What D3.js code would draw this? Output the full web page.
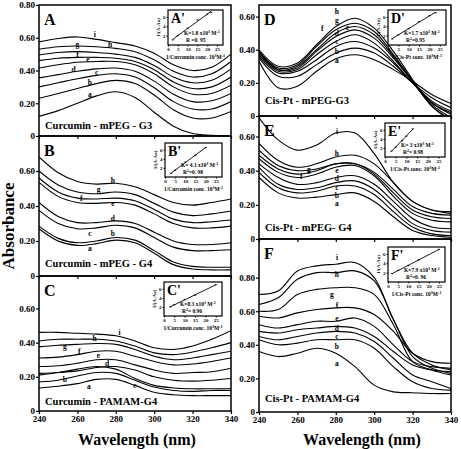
<!DOCTYPE html>
<html><head><meta charset="utf-8">
<script src="https://cdn.jsdelivr.net/npm/d3@7"></script>
<style>body{margin:0;background:#fff} svg{display:block} text{font-family:"Liberation Serif","Times New Roman",serif;font-weight:bold;fill:#000}</style>
</head><body><svg id="c" width="461" height="449"></svg>
<script>
const wavelengths = [240,250,260,270,280,290,300,310,320,330,340];
const curveNames = ["a","b","c","d","e","f","g","h","i"];
const xTicks = [240,260,280,300,320,340];
const yTicks = [0,0.2,0.4,0.6,0.8];
const yTickLabels = ["0","0.20","0.40","0.60","0.80"];

// Panel A: Curcumin - mPEG - G3
const seriesA = [
 [0.12,0.155,0.20,0.245,0.27,0.235,0.145,0.06,0.015,0.005,0.0],
 [0.23,0.26,0.29,0.32,0.34,0.32,0.25,0.16,0.11,0.11,0.15],
 [0.30,0.325,0.35,0.37,0.38,0.36,0.295,0.21,0.165,0.165,0.21],
 [0.355,0.375,0.395,0.41,0.415,0.395,0.335,0.255,0.21,0.215,0.26],
 [0.415,0.435,0.45,0.455,0.455,0.435,0.38,0.30,0.255,0.26,0.31],
 [0.46,0.475,0.48,0.48,0.475,0.455,0.405,0.33,0.29,0.30,0.36],
 [0.495,0.51,0.515,0.51,0.50,0.48,0.43,0.36,0.325,0.34,0.41],
 [0.53,0.545,0.55,0.545,0.535,0.515,0.465,0.395,0.36,0.38,0.455],
 [0.575,0.595,0.605,0.59,0.57,0.55,0.505,0.435,0.40,0.42,0.50]
];
const labelsA = [[266.5,0.255],[266.5,0.33],[270,0.39],[258,0.41],[265.5,0.47],[260,0.50],[260,0.56],[277,0.56],[269,0.62]];

// Panel B: Curcumin - mPEG - G4
const seriesB = [
 [0.27,0.20,0.175,0.185,0.205,0.19,0.13,0.065,0.04,0.035,0.035],
 [0.285,0.215,0.19,0.20,0.22,0.205,0.145,0.08,0.055,0.05,0.05],
 [0.375,0.30,0.27,0.275,0.29,0.275,0.22,0.165,0.145,0.145,0.15],
 [0.42,0.34,0.305,0.305,0.315,0.30,0.25,0.20,0.18,0.18,0.19],
 [0.535,0.455,0.42,0.415,0.42,0.405,0.355,0.30,0.275,0.275,0.285],
 [0.56,0.48,0.445,0.44,0.445,0.43,0.38,0.325,0.305,0.31,0.32],
 [0.60,0.52,0.48,0.47,0.48,0.465,0.415,0.365,0.345,0.355,0.37],
 [0.68,0.59,0.54,0.525,0.53,0.51,0.465,0.42,0.405,0.42,0.44]
];
const labelsB = [[266.5,0.16],[278.5,0.245],[266.5,0.245],[278.5,0.33],[278.5,0.417],[262,0.445],[271,0.50],[278.5,0.55]];

// Panel C: Curcumin - PAMAM-G4
const seriesC = [
 [0.135,0.145,0.16,0.185,0.185,0.15,0.11,0.095,0.09,0.09,0.09],
 [0.17,0.18,0.205,0.225,0.22,0.18,0.14,0.12,0.115,0.12,0.12],
 [0.21,0.225,0.245,0.26,0.245,0.19,0.15,0.135,0.13,0.13,0.13],
 [0.22,0.225,0.235,0.255,0.26,0.24,0.20,0.18,0.175,0.18,0.19],
 [0.26,0.265,0.28,0.30,0.30,0.27,0.24,0.22,0.225,0.23,0.25],
 [0.31,0.315,0.33,0.35,0.35,0.32,0.29,0.27,0.275,0.29,0.31],
 [0.375,0.385,0.39,0.395,0.39,0.36,0.32,0.30,0.31,0.33,0.35],
 [0.41,0.42,0.42,0.42,0.41,0.38,0.34,0.33,0.345,0.37,0.40],
 [0.46,0.46,0.455,0.45,0.44,0.41,0.37,0.36,0.38,0.42,0.47]
];
const labelsC = [[266,0.147],[253.5,0.19],[290,0.153],[275.5,0.28],[271,0.33],[261,0.35],[253.5,0.38],[269,0.43],[282,0.465]];

// Panel D: Cis-Pt - mPEG-G3
const seriesD = [
 [0.33,0.17,0.18,0.27,0.345,0.37,0.34,0.28,0.21,0.13,0.075],
 [0.35,0.24,0.24,0.31,0.38,0.41,0.38,0.30,0.20,0.11,0.05],
 [0.36,0.26,0.27,0.34,0.42,0.45,0.41,0.32,0.20,0.09,0.03],
 [0.37,0.27,0.28,0.37,0.45,0.49,0.44,0.33,0.20,0.08,0.02],
 [0.38,0.28,0.29,0.39,0.48,0.52,0.47,0.35,0.21,0.08,0.01],
 [0.39,0.28,0.30,0.40,0.50,0.54,0.49,0.36,0.21,0.07,-0.01],
 [0.39,0.29,0.31,0.42,0.52,0.56,0.51,0.37,0.21,0.06,-0.02],
 [0.40,0.30,0.32,0.43,0.54,0.59,0.53,0.39,0.22,0.06,-0.03]
];
const labelsD = [[280.6,0.34],[280.6,0.39],[280.6,0.45],[280.6,0.50],[286,0.535],[273,0.53],[280.6,0.578],[280.6,0.635]];

// Panel E: Cis-Pt - mPEG- G4
const seriesE = [
 [0.36,0.27,0.24,0.245,0.26,0.27,0.22,0.13,0.05,0.02,0.01],
 [0.39,0.30,0.27,0.28,0.31,0.31,0.26,0.16,0.07,0.03,0.02],
 [0.42,0.32,0.29,0.30,0.33,0.34,0.29,0.19,0.09,0.05,0.04],
 [0.44,0.36,0.32,0.33,0.36,0.37,0.32,0.22,0.12,0.07,0.06],
 [0.47,0.39,0.36,0.38,0.42,0.43,0.37,0.25,0.15,0.11,0.10],
 [0.49,0.41,0.38,0.40,0.44,0.44,0.38,0.27,0.17,0.13,0.12],
 [0.52,0.43,0.40,0.41,0.44,0.44,0.39,0.29,0.19,0.15,0.14],
 [0.56,0.46,0.42,0.44,0.48,0.49,0.44,0.33,0.22,0.17,0.16],
 [0.71,0.58,0.52,0.55,0.62,0.62,0.50,0.33,0.22,0.17,0.15]
];
const labelsE = [[280.6,0.208],[280.6,0.255],[280.6,0.305],[280.6,0.355],[280.6,0.405],[262,0.37],[266,0.41],[280.6,0.505],[280.6,0.635]];

// Panel F: Cis-Pt - PAMAM-G4
const seriesF = [
 [0.36,0.33,0.35,0.38,0.35,0.27,0.16,0.12,0.115,0.11,0.11],
 [0.43,0.40,0.41,0.43,0.43,0.43,0.38,0.27,0.18,0.14,0.13],
 [0.45,0.43,0.45,0.47,0.48,0.47,0.42,0.32,0.22,0.18,0.14],
 [0.48,0.47,0.49,0.50,0.51,0.50,0.45,0.36,0.28,0.25,0.24],
 [0.52,0.50,0.52,0.54,0.54,0.56,0.51,0.40,0.30,0.27,0.26],
 [0.57,0.56,0.59,0.61,0.62,0.62,0.58,0.48,0.35,0.30,0.29],
 [0.60,0.61,0.70,0.73,0.74,0.74,0.70,0.52,0.30,0.25,0.22],
 [0.64,0.68,0.79,0.83,0.83,0.84,0.78,0.55,0.33,0.26,0.23],
 [0.70,0.72,0.84,0.87,0.88,0.89,0.80,0.55,0.35,0.28,0.25]
];
const labelsF = [[280.6,0.29],[280.6,0.39],[280.6,0.455],[280.6,0.50],[280.6,0.56],[280.6,0.64],[278,0.70],[280.6,0.82],[280.6,0.92]];

// Insets (double reciprocal plots)
const insetTicksX = [0,5,10,15,20,25];
const insetTicksY = [2,4,6];
const insetA = [[2.5,1.1],[5,2.0],[10,3.6],[15,5.4],[20,6.6],[22,7.0]];
const insetB = [[3,0.8],[5,1.5],[10,3.3],[15,4.8],[20,6.5]];
const insetC = [[3,2.0],[5,2.5],[10,3.6],[15,4.6],[25,6.9]];
const insetD = [[2,1.3],[5,2.2],[10,3.5],[15,5.0],[20,6.3],[23,6.9]];
const insetE = [[3,1.3],[5,2.2],[8,3.6],[10,4.6],[13,6.2]];
const insetF = [[2,1.8],[5,2.5],[10,3.5],[15,4.7],[25,7.0]];

const panels = [
 {letter:"A", series:seriesA, labels:labelsA, x0:39, x1:231, top:5, bot:136, ymax:0.8, showTop:true, title:"Curcumin - mPEG - G3", titleDy:7,
  inset:{pts:insetA, x:168, y:10, w:55, h:35, K:"K=1.8 x10", R:"R =0. 95", xt:"1/Curcumin conc. 10", r2:false}},
 {letter:"B", series:seriesB, labels:labelsB, x0:39, x1:231, top:136, bot:276, ymax:0.8, showTop:false, title:"Curcumin - mPEG - G4", titleDy:9,
  inset:{pts:insetB, x:165, y:143, w:57, h:34, K:"K= 4.1 x10", R:"=0. 98", xt:"1/Curcumin conc. 10", r2:true}},
 {letter:"C", series:seriesC, labels:labelsC, x0:39, x1:231, top:276, bot:411, ymax:0.79, showTop:false, title:"Curcumin - PAMAM-G4", titleDy:6,
  inset:{pts:insetC, x:164, y:282, w:58, h:34, K:"K=8.3 x10", R:"= 0.96", xt:"1/Curcumin conc. 10", r2:true}},
 {letter:"D", series:seriesD, labels:labelsD, x0:259, x1:451, top:5, bot:116, ymax:0.67, showTop:false, title:"Cis-Pt - mPEG-G3", titleDy:12,
  inset:{pts:insetD, x:388, y:10, w:58, h:35, K:"K=1.7 x10", R:"=0.95", xt:"1/Cis-Pt conc. 10", r2:true}},
 {letter:"E", series:seriesE, labels:labelsE, x0:259, x1:451, top:116, bot:239, ymax:0.72, showTop:false, title:"Cis-Pt - mPEG- G4", titleDy:8,
  inset:{pts:insetE, x:385, y:123, w:60, h:34, K:"K= 3 x10", R:"= 0.98", xt:"1/Cis-Pt conc. 10", r2:true}},
 {letter:"F", series:seriesF, labels:labelsF, x0:259, x1:451, top:239, bot:412, ymax:1.03, showTop:true, title:"Cis-Pt - PAMAM-G4", titleDy:10,
  inset:{pts:insetF, x:388, y:247, w:57, h:35, K:"K=7.9 x10", R:"=0. 96", xt:"1/Cis-Pt conc. 10", r2:true}}
];

const svg = d3.select("#c");
const defs = svg.append("defs");

panels.forEach((p, pi) => {
  const x = d3.scaleLinear().domain([240,340]).range([p.x0, p.x1]);
  const y = d3.scaleLinear().domain([0, p.ymax]).range([p.bot, p.top]);
  const g = svg.append("g");
  const clipId = "clip" + pi;
  defs.append("clipPath").attr("id", clipId).append("rect")
    .attr("x", p.x0).attr("y", p.top).attr("width", p.x1 - p.x0).attr("height", p.bot - p.top);

  // y axis
  const tv = yTicks.filter(v => v <= p.ymax + 0.01 && (p.showTop || v < p.ymax - 0.05));
  const yAxis = d3.axisLeft(y).tickValues(tv)
    .tickFormat(v => yTickLabels[yTicks.indexOf(v)]).tickSize(3).tickPadding(1);
  const ya = g.append("g").attr("transform", `translate(${p.x0},0)`).call(yAxis);
  ya.select(".domain").remove();
  ya.selectAll("text").style("font-size", "9px").style("font-family", "Liberation Serif").style("font-weight", "bold");
  ya.selectAll("line").attr("stroke", "#000").attr("stroke-width", 1.2);

  // x axis ticks (only bottom panels get labels)
  const isBottom = (p.letter === "C" || p.letter === "F");
  const xAxis = d3.axisBottom(x).tickValues(xTicks).tickSize(3).tickPadding(2)
    .tickFormat(isBottom ? d3.format("d") : () => "");
  const xa = g.append("g").attr("transform", `translate(0,${p.bot})`).call(xAxis);
  xa.select(".domain").remove();
  xa.selectAll("text").style("font-size", "9px").style("font-family", "Liberation Serif").style("font-weight", "bold");
  xa.selectAll("line").attr("stroke", "#000").attr("stroke-width", 1.2);

  // curves
  const line = d3.line().x((d, i) => x(wavelengths[i])).y(d => y(d)).curve(d3.curveCatmullRom.alpha(0.5));
  g.append("g").attr("clip-path", `url(#${clipId})`).selectAll("path").data(p.series).join("path")
    .attr("d", line).attr("fill", "none").attr("stroke", "#000").attr("stroke-width", 1.1);

  // curve labels
  g.selectAll("text.cl").data(p.labels).join("text").attr("class", "cl")
    .attr("x", d => x(d[0])).attr("y", d => y(d[1]) + 3)
    .attr("text-anchor", "middle").style("font-size", "7.5px")
    .text((d, i) => curveNames[i]);

  // frame
  g.append("rect").attr("x", p.x0).attr("y", p.top).attr("width", p.x1 - p.x0).attr("height", p.bot - p.top)
    .attr("fill", "none").attr("stroke", "#000").attr("stroke-width", 1.5);

  // panel letter and title
  g.append("text").attr("x", p.x0 + 5).attr("y", p.top + 20).style("font-size", "16px").text(p.letter);
  g.append("text").attr("x", p.x0 + 6).attr("y", p.bot - p.titleDy).style("font-size", "10.5px").text(p.title);

  // inset
  const s = p.inset;
  const ix = d3.scaleLinear().domain([0, 28]).range([s.x, s.x + s.w]);
  const iy = d3.scaleLinear().domain([0, 7.5]).range([s.y + s.h, s.y]);
  const ig = g.append("g");
  ig.append("rect").attr("x", s.x).attr("y", s.y).attr("width", s.w).attr("height", s.h)
    .attr("fill", "#fff").attr("stroke", "#000").attr("stroke-width", 1.2);
  const ixa = ig.append("g").attr("transform", `translate(0,${s.y + s.h})`)
    .call(d3.axisBottom(ix).tickValues(insetTicksX).tickSize(1.5).tickPadding(1).tickFormat(d3.format("d")));
  ixa.select(".domain").remove();
  ixa.selectAll("text").style("font-size", "5px").style("font-family", "Liberation Serif").style("font-weight", "bold");
  const iya = ig.append("g").attr("transform", `translate(${s.x},0)`)
    .call(d3.axisLeft(iy).tickValues(insetTicksY).tickSize(1.5).tickPadding(1).tickFormat(d3.format("d")));
  iya.select(".domain").remove();
  iya.selectAll("text").style("font-size", "5px").style("font-family", "Liberation Serif").style("font-weight", "bold");
  // regression line
  const xm = d3.mean(s.pts, d => d[0]), ym = d3.mean(s.pts, d => d[1]);
  const slope = d3.sum(s.pts, d => (d[0] - xm) * (d[1] - ym)) / d3.sum(s.pts, d => (d[0] - xm) ** 2);
  const icpt = ym - slope * xm;
  const xs = d3.extent(s.pts, d => d[0]);
  ig.append("line").attr("x1", ix(xs[0])).attr("y1", iy(icpt + slope * xs[0]))
    .attr("x2", ix(xs[1])).attr("y2", iy(icpt + slope * xs[1])).attr("stroke", "#000").attr("stroke-width", 0.9);
  ig.selectAll("rect.pt").data(s.pts).join("rect").attr("class", "pt")
    .attr("x", d => ix(d[0]) - 1).attr("y", d => iy(d[1]) - 0.5).attr("width", 2).attr("height", 1).attr("fill", "#000");
  ig.append("text").attr("x", s.x + 3).attr("y", s.y + 13).style("font-size", "14px").text(p.letter + "'");
  const kt = ig.append("text").attr("x", s.x + 16).attr("y", s.y + s.h - 10).style("font-size", "5.5px");
  kt.append("tspan").text(s.K);
  kt.append("tspan").attr("dy", -2).style("font-size", "4px").text("3");
  kt.append("tspan").attr("dy", 2).text(" M");
  kt.append("tspan").attr("dy", -2).style("font-size", "4px").text("-1");
  const rt = ig.append("text").attr("x", s.x + 18).attr("y", s.y + s.h - 3).style("font-size", "5.5px");
  rt.append("tspan").text("R");
  if (s.r2) { rt.append("tspan").attr("dy", -2).style("font-size", "4px").text("2"); rt.append("tspan").attr("dy", 2).text(s.R); }
  else rt.append("tspan").text(s.R.slice(1));
  const xt = ig.append("text").attr("x", s.x + s.w / 2).attr("y", s.y + s.h + 14).attr("text-anchor", "middle").style("font-size", "5.5px");
  xt.append("tspan").text(s.xt);
  xt.append("tspan").attr("dy", -2).style("font-size", "4px").text("3");
  xt.append("tspan").attr("dy", 2).text("M");
  xt.append("tspan").attr("dy", -2).style("font-size", "4px").text("-1");
  ig.append("text").attr("transform", `translate(${s.x - 8},${s.y + s.h / 2}) rotate(-90)`)
    .attr("text-anchor", "middle").style("font-size", "5px").text("1/(A-Ao)");
});

// global axis titles
svg.append("text").attr("transform", "translate(14,226) rotate(-90)").attr("text-anchor", "middle")
  .style("font-size", "17px").text("Absorbance");
svg.append("text").attr("x", 137).attr("y", 445).attr("text-anchor", "middle").style("font-size", "16px").text("Wavelength (nm)");
svg.append("text").attr("x", 362).attr("y", 445).attr("text-anchor", "middle").style("font-size", "16px").text("Wavelength (nm)");
</script></body></html>
